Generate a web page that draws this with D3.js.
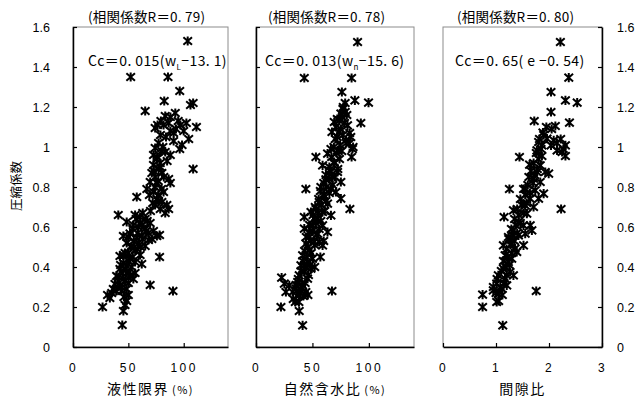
<!DOCTYPE html>
<html>
<head>
<meta charset="utf-8">
<script src="https://cdn.jsdelivr.net/npm/d3@7"></script>
<style>
  body { margin: 0; background: #fff; }
  svg text { fill: #000; }
</style>
</head>
<body>
<div id="chart"></div>
<script>
// Cc vs liquid limit wL (%)
var wL = [103.6, 52.1, 85.8, 96.4, 82.4, 108.5, 106.1, 65.2, 92.4, 111.5, 108.5, 40.9, 78.2, 78.2, 69.7, 90.3, 26.7, 45.5, 44.5, 31.2, 33.3, 48.5,
  79.4, 83.3, 76.4, 74.2, 81.8, 86.4, 97.0, 102.4, 90.9, 104.5, 98.5, 96.4, 87.9, 90.9, 77.3, 74.2, 81.2, 72.7, 83.3, 75.8, 78.8,
  72.7, 77.3, 71.2, 80.3, 74.2, 86.4, 75.8, 87.9, 69.7,
  66.7, 72.7, 77.3, 81.8, 75.8, 84.8, 57.6, 80.3, 74.2, 83.3, 78.8, 86.4,
  56.1, 60.6, 65.2, 69.7, 62.1, 59.1, 65.2, 68.2, 72.7, 54.5, 48.5, 45.5, 51.5, 62.1, 75.8, 71.2, 57.6,
  48.5, 53.0, 59.1, 65.2, 68.2, 50.0, 56.1, 45.5, 42.4, 51.5, 60.6, 62.1, 45.5, 56.1, 48.5,
  42.4, 48.5, 51.5, 54.5, 39.4, 45.5, 37.9, 42.4, 50.0, 56.1, 36.4, 43.9, 48.5, 40.9, 47.0,
  44, 47, 41, 52, 44.5, 47.5, 53, 43, 50, 54, 47, 58, 52, 61, 55, 63, 50, 58.5, 66, 54, 61, 67, 57, 63, 70,
  72, 77, 69, 80, 74, 77, 82, 73, 79, 76, 80, 84, 88, 93, 95, 88, 100, 79, 85, 46, 39, 35, 50];
var ccL = [1.53, 1.35, 1.35, 1.28, 1.23, 1.22, 1.21, 1.18, 1.17, 1.10, 0.89, 0.66, 0.56, 0.45, 0.31, 0.28, 0.20, 0.18, 0.11, 0.26, 0.245, 0.23,
  1.13, 1.155, 1.11, 1.095, 1.11, 1.12, 1.11, 1.12, 1.07, 1.04, 1.01, 0.99, 0.96, 1.03, 1.02, 0.995, 1.00, 0.96, 0.975, 0.94, 0.92,
  0.91, 0.89, 0.87, 0.87, 0.85, 0.84, 0.82, 0.82, 0.825,
  0.79, 0.775, 0.76, 0.775, 0.74, 0.71, 0.75, 0.725, 0.71, 0.67, 0.69, 0.69,
  0.66, 0.65, 0.64, 0.62, 0.61, 0.60, 0.59, 0.57, 0.58, 0.61, 0.625, 0.555, 0.567, 0.555, 0.555, 0.54, 0.547,
  0.52, 0.505, 0.52, 0.505, 0.535, 0.47, 0.485, 0.46, 0.455, 0.44, 0.46, 0.415, 0.42, 0.425, 0.405,
  0.39, 0.37, 0.355, 0.34, 0.355, 0.34, 0.315, 0.305, 0.32, 0.37, 0.29, 0.28, 0.29, 0.33, 0.21,
  0.30, 0.33, 0.35, 0.36, 0.37, 0.39, 0.40, 0.41, 0.43, 0.45, 0.47, 0.49, 0.50, 0.50, 0.53, 0.54, 0.55, 0.57, 0.58, 0.59, 0.62, 0.63, 0.64, 0.67, 0.68,
  0.72, 0.73, 0.76, 0.79, 0.80, 0.83, 0.85, 0.88, 0.90, 0.95, 0.98, 1.05, 1.08, 1.09, 1.13, 1.15, 1.08, 1.06, 0.93, 0.25, 0.28, 0.27, 0.26];

// Cc vs natural water content wn (%)
var wn = [90.0, 42.8, 84.7, 76.1, 87.6, 99.7, 92.9, 53.1, 44.2, 83.2, 67.3, 22.1, 38.3, 41.3, 22.7, 26.5, 25.1, 34.8,
  77.3, 79.1, 75.2, 69.3, 73.7, 81.1, 70.8, 67.3, 73.7, 79.6, 82.6, 85.5, 84.7, 70.2, 66.4, 72.3, 63.4,
  59.0, 69.3, 64.9, 72.3, 67.8, 61.9, 75.2, 57.5, 66.4, 70.8, 60.5, 75.2, 56.0, 63.4, 53.1, 59.0, 48.7, 66.4, 54.6, 42.8,
  50.1, 59.0, 42.8, 63.4, 54.6, 47.2, 51.6, 59.0, 44.2, 47.2, 41.3, 50.1, 45.7, 39.8, 48.7, 42.8, 38.3, 45.7, 36.9, 41.3,
  35.4, 44.2, 38.3, 32.4, 29.5, 42.8, 47.2, 56.0, 51.6,
  40.5, 43.5, 37.5, 46.5, 40, 44, 48, 41.5, 45, 49, 43, 46, 52, 48.5, 44.5, 53.5, 50, 56, 47.5, 53, 57.5, 50.5, 55, 61,
  52.5, 58, 62, 55.5, 59.5, 65, 57, 62.5, 68, 60, 64.5, 70, 62, 66.5, 72.5, 65, 69, 74, 67, 71.5, 76, 69, 74.5, 80,
  72, 77, 83, 75, 78.5, 72, 76.5, 80.5, 79, 77, 84, 86, 39, 42, 36, 33, 46, 38, 35.5, 60, 57, 52];
var ccN = [1.525, 1.345, 1.345, 1.275, 1.233, 1.222, 1.12, 0.95, 0.79, 0.69, 0.28, 0.20, 0.18, 0.108, 0.347, 0.275, 0.317, 0.225,
  1.20, 1.175, 1.167, 1.125, 1.133, 1.108, 1.10, 1.075, 1.075, 1.033, 1.017, 0.99, 0.95, 1.04, 0.99, 0.983, 0.967,
  0.908, 0.925, 0.883, 0.875, 0.85, 0.838, 0.825, 0.80, 0.79, 0.775, 0.758, 0.742, 0.725, 0.717, 0.69, 0.675, 0.675, 0.658, 0.642, 0.65,
  0.608, 0.608, 0.592, 0.575, 0.567, 0.55, 0.525, 0.508, 0.517, 0.483, 0.458, 0.442, 0.425, 0.408, 0.392, 0.375, 0.358, 0.342, 0.325, 0.308,
  0.292, 0.275, 0.258, 0.275, 0.308, 0.408, 0.575, 0.525, 0.642,
  0.30, 0.32, 0.34, 0.36, 0.38, 0.40, 0.41, 0.43, 0.45, 0.47, 0.48, 0.50, 0.51, 0.53, 0.55, 0.56, 0.58, 0.59, 0.61, 0.62, 0.63, 0.66, 0.67, 0.68,
  0.70, 0.71, 0.73, 0.74, 0.76, 0.77, 0.78, 0.80, 0.81, 0.82, 0.84, 0.85, 0.86, 0.88, 0.89, 0.90, 0.92, 0.94, 0.95, 0.97, 0.98, 1.00, 1.01, 1.02,
  1.05, 1.06, 1.07, 1.09, 1.12, 1.14, 1.15, 1.16, 1.22, 1.19, 1.05, 1.00, 0.27, 0.255, 0.28, 0.24, 0.26, 0.225, 0.31, 0.53, 0.45, 0.40];

// Cc vs void ratio e
var voidRatio = [2.215, 2.373, 2.038, 2.31, 2.532, 1.722, 2.386, 1.443, 1.253, 2.228, 1.759, 0.747, 1.127, 0.747, 1.013, 2.038, 2.12, 2.31, 2.31, 2.247, 2.152, 1.152, 1.329,
  1.886, 1.804, 1.867, 1.962, 2.089, 2.038, 1.772, 1.867, 1.633, 1.835, 1.772, 1.930, 1.709, 1.994, 1.835,
  1.551, 1.741, 1.899, 1.646, 1.804, 1.551, 1.709, 1.582, 1.424, 1.519, 1.677, 1.329, 1.424, 1.234, 1.551,
  1.519, 1.297, 1.361, 1.171, 1.297, 1.234, 1.139, 1.266, 1.044, 1.171, 1.013, 1.108, 0.949, 1.044, 1.203, 1.329, 1.392, 1.139, 1.646,
  1.08, 1.15, 1.02, 1.20, 1.10, 1.18, 1.25, 1.14, 1.22, 1.30, 1.20, 1.27, 1.35, 1.24, 1.32, 1.40, 1.29, 1.37, 1.46, 1.35, 1.43, 1.52, 1.40, 1.48, 1.58,
  1.46, 1.55, 1.64, 1.52, 1.60, 1.70, 1.62, 1.73, 1.66, 1.78, 1.71, 1.80, 1.76, 1.85, 1.82, 1.90, 1.95, 2.05, 2.15, 2.22, 2.27, 1.00, 0.95, 1.12, 1.05];
var ccE = [1.525, 1.347, 1.275, 1.233, 1.222, 1.13, 1.122, 0.95, 0.79, 0.69, 0.28, 0.20, 0.108, 0.262, 0.225, 1.175, 1.105, 1.008, 0.955, 0.975, 0.983, 0.65, 0.683,
  1.072, 1.025, 1.008, 1.042, 1.033, 1.008, 0.983, 0.955, 0.912, 0.908, 0.875, 0.875, 0.842, 0.867, 0.825,
  0.792, 0.783, 0.767, 0.742, 0.742, 0.708, 0.70, 0.667, 0.625, 0.608, 0.583, 0.583, 0.558, 0.55, 0.567,
  0.508, 0.517, 0.492, 0.458, 0.442, 0.425, 0.392, 0.375, 0.358, 0.342, 0.317, 0.292, 0.283, 0.267, 0.308, 0.358, 0.475, 0.508, 0.608,
  0.30, 0.32, 0.34, 0.36, 0.38, 0.40, 0.41, 0.43, 0.45, 0.47, 0.49, 0.51, 0.53, 0.54, 0.56, 0.57, 0.59, 0.61, 0.62, 0.64, 0.66, 0.67, 0.69, 0.71, 0.72,
  0.74, 0.76, 0.77, 0.79, 0.81, 0.82, 0.85, 0.86, 0.88, 0.89, 0.92, 0.94, 0.97, 0.99, 1.04, 1.06, 1.10, 1.09, 1.02, 1.04, 0.99, 0.27, 0.30, 0.26, 0.23];

var yTicks = [0, 0.2, 0.4, 0.6, 0.8, 1, 1.2, 1.4, 1.6];

var panels = [
  { xs: wL, ys: ccL, left: 73, right: 228, xMax: 140, xTicks: [0, 50, 100], yAxis: 'left',
    r: '(相関係数R＝0. 79)', titleX: 88, eqX: 88, eq: ['Cc＝0. 015(w', 'L', '−13. 1)'], xlabel: '液性限界' , pct: true },
  { xs: wn, ys: ccN, left: 256, right: 414, xMax: 140, xTicks: [0, 50, 100], yAxis: 'none',
    r: '(相関係数R＝0. 78)', titleX: 268, eqX: 265, eq: ['Cc＝0. 013(w', 'n', '−15. 6)'], xlabel: '自然含水比', pct: true },
  { xs: voidRatio, ys: ccE, left: 443, right: 602, xMax: 3, xTicks: [0, 1, 2, 3], yAxis: 'right',
    r: '(相関係数R＝0. 80)', titleX: 457, eqX: 455, eq: ['Cc＝0. 65( e', '', ' −0. 54)'], xlabel: '間隙比', pct: false }
];

var width = 637, height = 399;
var plotTop = 27, plotBottom = 347;
var numFmt = function (d) { return String(+(+d).toFixed(1)); };

var svg = d3.select('#chart').append('svg')
  .attr('width', width)
  .attr('height', height);

var y = d3.scaleLinear().domain([0, 1.6]).range([plotBottom, plotTop]);

// asterisk marker: X with a vertical bar
var star = 'M-4.3,-3.8L4.3,3.8M-4.3,3.8L4.3,-3.8M0,-4.6L0,4.6';

panels.forEach(function (p) {
  var x = d3.scaleLinear().domain([0, p.xMax]).range([p.left, p.right]);
  var g = svg.append('g');

  // frame
  g.append('rect')
    .attr('x', p.left).attr('y', plotTop)
    .attr('width', p.right - p.left).attr('height', plotBottom - plotTop)
    .attr('fill', 'none').attr('stroke', '#8c8c8c').attr('stroke-width', 1);

  // points
  g.append('g').selectAll('path')
    .data(p.xs.map(function (v, i) { return [v, p.ys[i]]; }))
    .enter().append('path')
    .attr('d', star)
    .attr('transform', function (d) { return 'translate(' + x(d[0]) + ',' + y(d[1]) + ')'; })
    .attr('fill', 'none')
    .attr('stroke', '#000')
    .attr('stroke-width', 2);

  // x axis
  var xa = g.append('g')
    .attr('transform', 'translate(0,' + plotBottom + ')')
    .call(d3.axisBottom(x).tickValues(p.xTicks).tickSize(-4).tickSizeOuter(0).tickPadding(16).tickFormat(numFmt));
  xa.selectAll('text')
    .style('font-family', '"Liberation Sans", Arial, sans-serif')
    .style('font-size', '12px')
    .style('letter-spacing', '2.5px');

  // y axis
  var ya;
  if (p.yAxis === 'left') {
    ya = g.append('g').attr('transform', 'translate(' + p.left + ',0)')
      .call(d3.axisLeft(y).tickValues(yTicks).tickSize(-4).tickSizeOuter(0).tickPadding(23).tickFormat(numFmt));
  } else if (p.yAxis === 'right') {
    ya = g.append('g').attr('transform', 'translate(' + p.right + ',0)')
      .call(d3.axisRight(y).tickValues(yTicks).tickSize(-4).tickSizeOuter(0).tickPadding(15).tickFormat(numFmt));
  } else {
    ya = g.append('g').attr('transform', 'translate(' + p.left + ',0)')
      .call(d3.axisLeft(y).tickValues(yTicks).tickSize(-4).tickSizeOuter(0).tickFormat(''));
  }
  ya.selectAll('text')
    .style('font-family', '"Liberation Sans", Arial, sans-serif')
    .style('font-size', '12.5px');
  g.selectAll('.domain').attr('stroke', '#000').attr('stroke-width', 1.5);
  g.selectAll('.tick line').attr('stroke', '#000').attr('stroke-width', 1.2);

  // correlation title
  g.append('text')
    .attr('x', p.titleX).attr('y', 21.5)
    .attr('textLength', 117).attr('lengthAdjust', 'spacing')
    .style('font-family', '"Noto Sans CJK JP", sans-serif')
    .style('font-size', '13.5px')
    .text(p.r);

  // regression equation
  var eq = g.append('text')
    .attr('x', p.eqX).attr('y', 66)
    .style('font-family', '"Noto Sans CJK JP", sans-serif')
    .style('font-size', '14px')
    .style('letter-spacing', '0.4px');
  eq.append('tspan').text(p.eq[0]);
  if (p.eq[1]) {
    eq.append('tspan').attr('dy', 4).style('font-size', '8px').text(p.eq[1]);
    eq.append('tspan').attr('dy', -4).text(p.eq[2]);
  } else {
    eq.append('tspan').text(p.eq[2]);
  }

  // x label
  var xl = g.append('text')
    .attr('x', (p.left + p.right) / 2).attr('y', 394)
    .attr('text-anchor', 'middle')
    .style('font-family', '"Noto Sans CJK JP", sans-serif')
    .style('font-size', '14px')
    .style('letter-spacing', '1.5px');
  xl.append('tspan').text(p.xlabel);
  if (p.pct) xl.append('tspan').attr('dx', 3).style('font-size', '11px').text('(%)');
});

// y axis title
svg.append('text')
  .attr('transform', 'translate(21,186) rotate(-90)')
  .attr('text-anchor', 'middle')
  .style('font-family', '"Noto Sans CJK JP", sans-serif')
  .style('font-size', '12.5px')
  .text('圧縮係数');
</script>
</body>
</html>
